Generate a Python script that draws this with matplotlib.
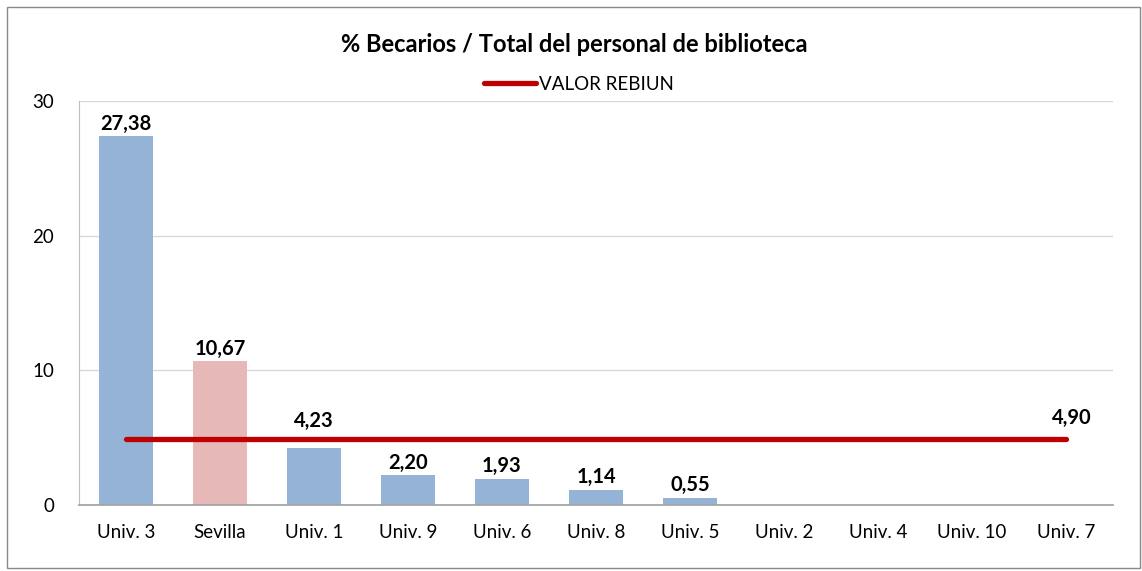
import matplotlib
matplotlib.use("Agg")
import matplotlib.pyplot as plt
from matplotlib.patches import Rectangle

categorias = ["Univ. 3", "Sevilla", "Univ. 1", "Univ. 9", "Univ. 6", "Univ. 8",
              "Univ. 5", "Univ. 2", "Univ. 4", "Univ. 10", "Univ. 7"]
valores = [27.38, 10.67, 4.23, 2.20, 1.93, 1.14, 0.55, 0, 0, 0, 0]
valor_rebiun = 4.90
colores = ["#95B3D7", "#E6B9B8"] + ["#95B3D7"] * 9

plt.rcParams['font.family'] = ['Lato', 'DejaVu Sans']

fig = plt.figure(figsize=(11.42, 5.71), dpi=100)
ax = fig.add_axes([79 / 1142, 1 - 505 / 571, (1113 - 79) / 1142, (505 - 101) / 571])

x = list(range(len(categorias)))
ax.bar(x, valores, width=0.57, color=colores, zorder=2)
linea, = ax.plot(x, [valor_rebiun] * len(x), color="#C00000", lw=3.8,
                 solid_capstyle="round", zorder=3, label="VALOR REBIUN")

for xi, v in zip(x, valores):
    if v > 0:
        dy = 12 if xi == 2 else 2
        t = ax.annotate(f"{v:.2f}".replace(".", ","), (xi, v), xytext=(0, dy),
                        textcoords="offset points", ha="center", va="bottom",
                        fontsize=14.5, fontweight="bold", zorder=4)
        if xi == 2:
            t.set_bbox(dict(facecolor="white", edgecolor="none", pad=1))
ax.annotate(f"{valor_rebiun:.2f}".replace(".", ","), (x[-1], valor_rebiun),
            xytext=(4, 8), textcoords="offset points", ha="center", va="bottom",
            fontsize=14.5, fontweight="bold", zorder=4)

ax.set_xlim(-0.5, len(x) - 0.5)
ax.set_ylim(0, 30)
ax.set_yticks([0, 10, 20, 30])
ax.set_xticks(x)
ax.set_xticklabels(categorias)
ax.tick_params(axis="both", length=0, labelsize=13.5)
ax.tick_params(axis="x", pad=14)
ax.tick_params(axis="y", pad=18)
ax.grid(axis="y", color="#D9D9D9", lw=1, zorder=0)
for s in ["top", "right"]:
    ax.spines[s].set_visible(False)
ax.spines["left"].set_color("#BFBFBF")
ax.spines["bottom"].set_color("#A6A6A6")
ax.spines["bottom"].set_linewidth(1.3)

fig.text(574 / 1142, 1 - 44 / 571, "% Becarios / Total del personal de biblioteca",
         ha="center", va="center", fontsize=17, fontweight="bold")
fig.legend(handles=[linea], loc="center", bbox_to_anchor=(579 / 1142, 1 - 84 / 571),
           frameon=False, fontsize=13.5, handlelength=2.8, handletextpad=0.15)

fig.patches.append(Rectangle((7 / 1142, 3 / 571), 1133 / 1142, 561 / 571,
                             transform=fig.transFigure, fill=False,
                             edgecolor="#898989", lw=1))

fig.savefig("out.png", dpi=100)
